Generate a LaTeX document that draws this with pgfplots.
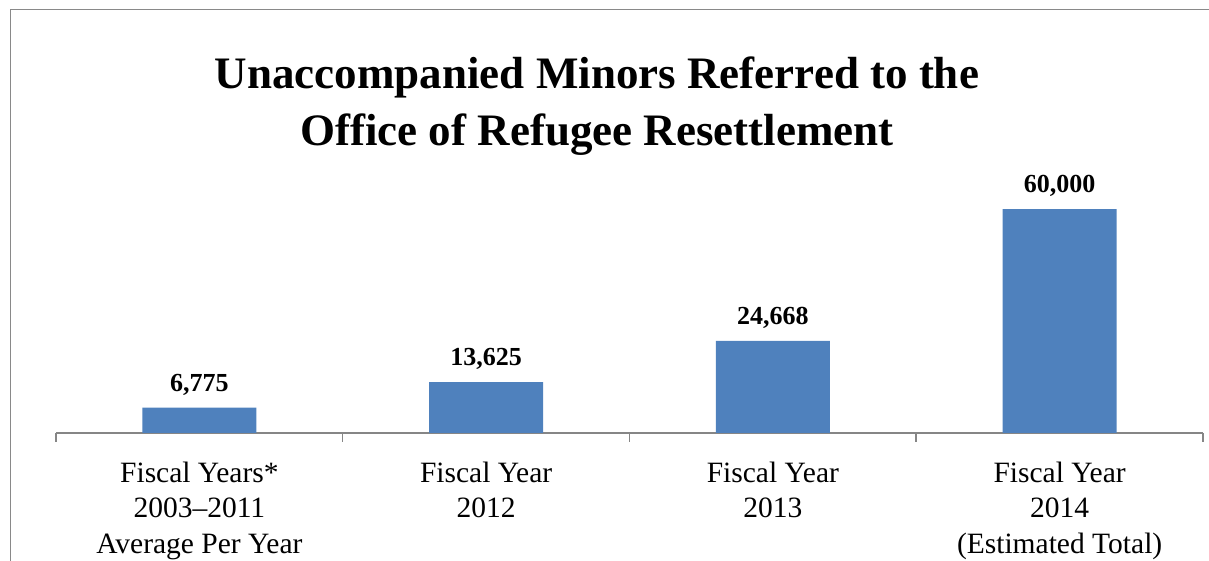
\documentclass[border=0pt]{standalone}
\usepackage{pgfplots}
\pgfplotsset{compat=1.18}
\usepackage{fontspec}
\setmainfont{Liberation Serif}
\definecolor{barblue}{HTML}{4F81BD}
\definecolor{framegray}{HTML}{898989}
\definecolor{axisgray}{HTML}{868686}
\begin{document}
\begin{tikzpicture}[x=1pt,y=1pt]
  \useasboundingbox (0,0) rectangle (1209,561);
  % outer frame (only top and left edges show)
  \draw[framegray,line width=1.6pt] (10.5,0) -- (10.5,551.5) -- (1209,551.5);
  \node[align=center,font=\bfseries\fontsize{45}{57}\selectfont] at (597,454.5)
    {Unaccompanied Minors Referred to the\\Office of Refugee Resettlement};
  \begin{axis}[
    at={(56pt,128pt)}, anchor=south west,
    scale only axis, width=1147pt, height=261.3pt,
    xmin=-0.5, xmax=3.5, ymin=0, ymax=70000,
    axis x line*=bottom, hide y axis,
    axis line style={axisgray,line width=1.5pt},
    xtick={0,1,2,3},
    xticklabels={{Fiscal Years*\\2003--2011\\Average Per Year},
                 {Fiscal Year\\2012},{Fiscal Year\\2013},
                 {Fiscal Year\\2014\\(Estimated Total)}},
    minor xtick={-0.5,0.5,1.5,2.5,3.5},
    major tick length=0pt, minor tick length=9pt,
    tick align=outside,
    every minor tick/.style={axisgray,line width=1.5pt},
    xticklabel style={align=center,font=\fontsize{29.5}{35.5}\selectfont,yshift=-25pt},
    ybar, bar width=114pt,
    /pgf/number format/assume math mode=true,
    /pgf/number format/.cd, fixed, 1000 sep={,},
    /pgfplots/.cd,
    nodes near coords,
    every node near coord/.append style={font=\bfseries\fontsize{26}{30}\selectfont,black,yshift=9pt},
  ]
    \addplot[fill=barblue,draw=none] coordinates {(0,6775) (1,13625) (2,24668) (3,60000)};
  \end{axis}
\end{tikzpicture}
\end{document}
